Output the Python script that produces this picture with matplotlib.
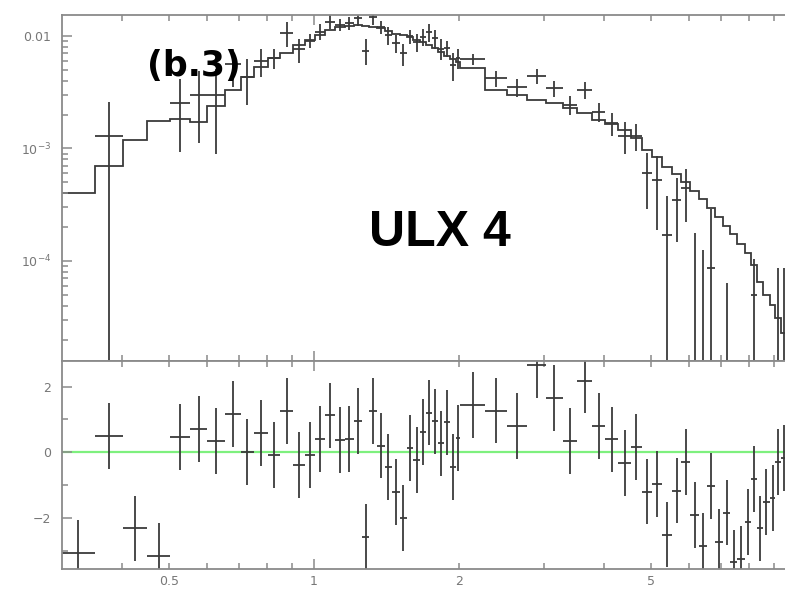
import numpy as np
import matplotlib
matplotlib.use("Agg")
import matplotlib.pyplot as plt
from matplotlib.ticker import FixedLocator, FixedFormatter, NullFormatter

# Energy channel edges (keV)
edges = [
    0.300, 0.351, 0.401, 0.450, 0.503, 0.553, 0.601, 0.654, 0.704, 0.752,
    0.803, 0.852, 0.905, 0.956, 1.006, 1.055, 1.106, 1.157, 1.209, 1.258,
    1.303, 1.352, 1.402, 1.453, 1.506, 1.557, 1.607, 1.660, 1.710, 1.759,
    1.808, 1.859, 1.912, 1.966, 2.008, 2.264, 2.514, 2.770, 3.025, 3.281,
    3.513, 3.774, 4.016, 4.273, 4.548, 4.781, 5.025, 5.272, 5.530, 5.781,
    6.041, 6.292, 6.526, 6.792, 7.056, 7.308, 7.554, 7.819, 8.077, 8.299,
    8.553, 8.818, 9.066, 9.307, 9.579,
]

# Folded model (counts/s/keV) per channel
model = [
    4.05e-4, 7.03e-4, 1.19e-3, 1.77e-3, 1.83e-3, 1.71e-3, 2.39e-3, 3.31e-3, 4.29e-3, 5.30e-3,
    6.30e-3, 7.11e-3, 8.32e-3, 9.20e-3, 1.02e-2, 1.13e-2, 1.20e-2, 1.235e-2, 1.24e-2, 1.23e-2,
    1.20e-2, 1.17e-2, 1.11e-2, 1.05e-2, 1.01e-2, 9.70e-3, 9.20e-3, 8.75e-3, 8.32e-3, 7.82e-3,
    7.21e-3, 6.64e-3, 6.25e-3, 5.87e-3, 5.16e-3, 3.31e-3, 2.99e-3, 2.70e-3, 2.52e-3, 2.28e-3,
    2.06e-3, 1.79e-3, 1.66e-3, 1.46e-3, 1.24e-3, 9.70e-4, 8.40e-4, 6.90e-4, 5.93e-4, 5.04e-4,
    4.19e-4, 3.56e-4, 2.96e-4, 2.46e-4, 2.05e-4, 1.74e-4, 1.42e-4, 1.18e-4, 9.20e-5, 6.50e-5,
    5.00e-5, 4.06e-5, 3.11e-5, 2.29e-5,
]

# Observed rates and 1-sigma errors (nan = not shown on log axis)
nan = np.nan
rate = [
    nan, 1.29e-3, nan, nan, 2.52e-3, 2.99e-3, 2.99e-3, 5.60e-3, 4.35e-3, 6.00e-3,
    6.40e-3, 1.06e-2, 7.60e-3, 9.10e-3, 1.09e-2, 1.34e-2, 1.26e-2, 1.30e-2, 1.44e-2, 7.40e-3,
    1.47e-2, 1.20e-2, 1.02e-2, 8.60e-3, 7.00e-3, 9.90e-3, 8.80e-3, 9.80e-3, 1.08e-2, 9.50e-3,
    7.70e-3, 7.80e-3, 5.50e-3, 6.40e-3, 6.21e-3, 4.21e-3, 3.50e-3, 4.41e-3, 3.43e-3, 2.44e-3,
    3.31e-3, 2.12e-3, 1.68e-3, 1.30e-3, 1.29e-3, 6.00e-4, 5.20e-4, 1.70e-4, 3.48e-4, 4.43e-4,
    -9.1e-5, -1.0e-6, 8.70e-5, nan, -1.04e-4, nan, nan, nan, 5.00e-5, nan,
    nan, nan, 9.0e-6, 9.0e-6,
]
rate_err = [
    nan, 1.30e-3, nan, nan, 1.60e-3, 1.88e-3, 2.10e-3, 2.10e-3, 1.90e-3, 1.70e-3,
    1.30e-3, 2.70e-3, 1.80e-3, 1.30e-3, 1.75e-3, 1.90e-3, 1.60e-3, 1.60e-3, 2.10e-3, 1.90e-3,
    2.10e-3, 1.50e-3, 1.90e-3, 1.60e-3, 1.55e-3, 1.50e-3, 1.60e-3, 1.70e-3, 2.00e-3, 1.80e-3,
    1.60e-3, 1.30e-3, 1.50e-3, 1.30e-3, 7.30e-4, 7.10e-4, 6.40e-4, 6.40e-4, 5.50e-4, 4.60e-4,
    5.70e-4, 4.10e-4, 3.80e-4, 4.00e-4, 3.50e-4, 3.10e-4, 3.30e-4, 2.10e-4, 2.00e-4, 2.20e-4,
    2.67e-4, 1.25e-4, 2.00e-4, nan, 1.68e-4, nan, nan, nan, 5.30e-5, nan,
    nan, nan, 7.70e-5, 7.70e-5,
]

# Residuals (data - model) / sigma
resid = [
    -3.06, 0.50, -2.32, -3.17, 0.46, 0.71, 0.34, 1.16, 0.00, 0.58,
    -0.08, 1.26, -0.39, -0.08, 0.40, 1.12, 0.38, 0.41, 0.96, -2.59,
    1.26, 0.20, -0.46, -1.21, -2.01, 0.12, -0.24, 0.61, 1.21, 0.94,
    0.27, 0.91, -0.46, 0.43, 1.43, 1.27, 0.80, 2.66, 1.66, 0.35,
    2.18, 0.80, 0.39, -0.33, 0.15, -1.20, -0.96, -2.51, -1.17, -0.29,
    -1.91, -2.85, -1.03, -2.74, -1.84, -3.36, -3.26, -2.13, -0.81, -2.32,
    -1.51, -1.40, -0.29, -0.18,
]

xticks = [0.5, 1, 2, 5]
xticklabels = ["0.5", "1", "2", "5"]

lo = np.array(edges[:-1])
hi = np.array(edges[1:])
emid = np.sqrt(lo * hi)
xerr = [emid - lo, hi - emid]

ink = "#3a3a3a"
frame = "#8a8a8a"
label_col = "#777777"

W, H = 785, 590
fig = plt.figure(figsize=(W / 100, H / 100), dpi=100)
x0, x1 = 62, 796
ax = fig.add_axes([x0 / W, 1 - 361 / H, (x1 - x0) / W, (361 - 14.5) / H])
axr = fig.add_axes([x0 / W, 1 - 569 / H, (x1 - x0) / W, (569 - 361) / H], sharex=ax)

# spectrum panel
ax.set_xscale("log")
ax.set_yscale("log", nonpositive="clip")
ax.stairs(model, edges, baseline=None, color=ink, lw=1.3)
ax.errorbar(emid, rate, yerr=rate_err, xerr=xerr, fmt="none",
            ecolor=ink, elinewidth=1.3, capsize=0)
ax.set_xlim(0.3, 10)
ax.set_ylim(1.29e-5, 1.55e-2)
ax.yaxis.set_major_locator(FixedLocator([1e-4, 1e-3, 1e-2]))
ax.yaxis.set_major_formatter(FixedFormatter(["10$^{-4}$", "10$^{-3}$", "0.01"]))
minor_y = [m * 10.0 ** d for d in (-5, -4, -3, -2) for m in range(2, 10)]
ax.yaxis.set_minor_locator(FixedLocator(minor_y))
ax.yaxis.set_minor_formatter(NullFormatter())

# residual panel
axr.axhline(0, color="#7ef07e", lw=1.6, zorder=1)
axr.errorbar(emid, resid, yerr=1.0, xerr=xerr, fmt="none",
             ecolor=ink, elinewidth=1.3, capsize=0, zorder=2)
axr.set_ylim(-3.56, 2.78)
axr.yaxis.set_major_locator(FixedLocator([-2, 0, 2]))
axr.yaxis.set_major_formatter(FixedFormatter(["\u22122", "0", "2"]))
axr.yaxis.set_minor_locator(FixedLocator([-3, -1, 1]))

minor_x = [0.4, 0.5, 0.6, 0.7, 0.8, 0.9, 2, 3, 4, 5, 6, 7, 8, 9]
for a in (ax, axr):
    a.xaxis.set_major_locator(FixedLocator([1, 10]))
    a.xaxis.set_minor_locator(FixedLocator(minor_x))
    a.xaxis.set_major_formatter(NullFormatter())
    a.xaxis.set_minor_formatter(NullFormatter())
    for s in a.spines.values():
        s.set_color(frame)
        s.set_linewidth(1.3)
    a.tick_params(which="both", direction="in", top=True, right=False,
                  color=frame, width=1.1, labelsize=9, labelcolor=label_col)
    a.tick_params(which="major", length=7)
    a.tick_params(which="minor", length=4)
    a.tick_params(axis="y", pad=8)

ax.tick_params(axis="x", labelbottom=False)
for xv, txt in zip(xticks, xticklabels):
    axr.text(xv, -0.03, txt, transform=axr.get_xaxis_transform(),
             ha="center", va="top", fontsize=9, color=label_col)

fig.text(194 / W, 1 - 66 / H, "(b.3)", ha="center", va="center",
         fontsize=25, fontweight="bold", family="DejaVu Sans")
fig.text(440 / W, 1 - 233 / H, "ULX 4", ha="center", va="center",
         fontsize=36, fontweight="bold", family="Liberation Sans")

fig.savefig("out.png", dpi=100)
